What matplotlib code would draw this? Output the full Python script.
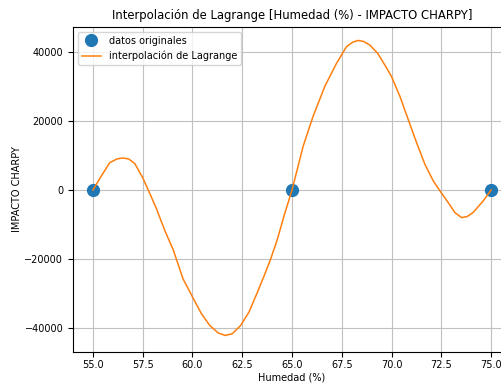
import numpy as np
import matplotlib
matplotlib.use("Agg")
from matplotlib import pyplot as plt

# original data
humedad = [55.0, 65.0, 75.0]
impacto = [0, 0, 0]

# interpolated curve, sampled
curva_x = [55.0, 55.42, 55.84, 56.2, 56.5, 56.8, 57.1, 57.5, 57.78, 58.19, 58.6,
           59.03, 59.53, 60.0, 60.45, 60.87, 61.3, 61.65, 62.0, 62.42, 62.84,
           63.26, 63.6, 63.93, 64.27, 64.6, 65.0, 65.56, 66.06, 66.65, 67.24,
           67.74, 68.05, 68.32, 68.6, 68.9, 69.3, 69.66, 70.0, 70.42, 70.84,
           71.26, 71.68, 72.1, 72.45, 72.84, 73.19, 73.52, 73.8, 74.1, 74.6, 75.0]
curva_y = [0, 4050, 7900, 9000, 9300, 9000, 7700, 3600, 0, -5400, -11600,
           -17300, -25800, -31000, -35900, -39300, -41500, -42200, -41700, -39300, -35400,
           -29700, -24900, -20000, -14200, -7500, 0, 12700, 21400, 30100, 36800,
           41600, 42900, 43400, 43100, 42100, 39700, 36300, 32900, 27200, 20400,
           13700, 7400, 2600, -400, -3600, -6600, -8000, -7700, -6500, -3200, 0]

plt.rcParams['font.size'] = 7

fig = plt.figure(figsize=(5.01, 3.83), dpi=100)
ax = fig.add_axes([73 / 501, 31 / 383, 438 / 501, 325 / 383])

ax.plot(humedad, impacto, 'o', markersize=8.5, label='datos originales')
ax.plot(curva_x, curva_y, '-', linewidth=1.1, label='interpolación de Lagrange')

ax.set_xlim(54, 76)
ax.set_ylim(-47000, 47300)
ax.set_xticks(np.arange(55, 75.1, 2.5))
ax.set_yticks([-40000, -20000, 0, 20000, 40000])
ax.tick_params(axis='x', pad=2)
ax.set_title('Interpolación de Lagrange [Humedad (%) - IMPACTO CHARPY]', fontsize=8.4)
ax.set_xlabel('Humedad (%)', labelpad=2)
ax.set_ylabel('IMPACTO CHARPY', labelpad=2)
ax.legend(loc='upper left')
ax.grid(True, color='#c0c0c0')

fig.savefig('out.png', dpi=100)
